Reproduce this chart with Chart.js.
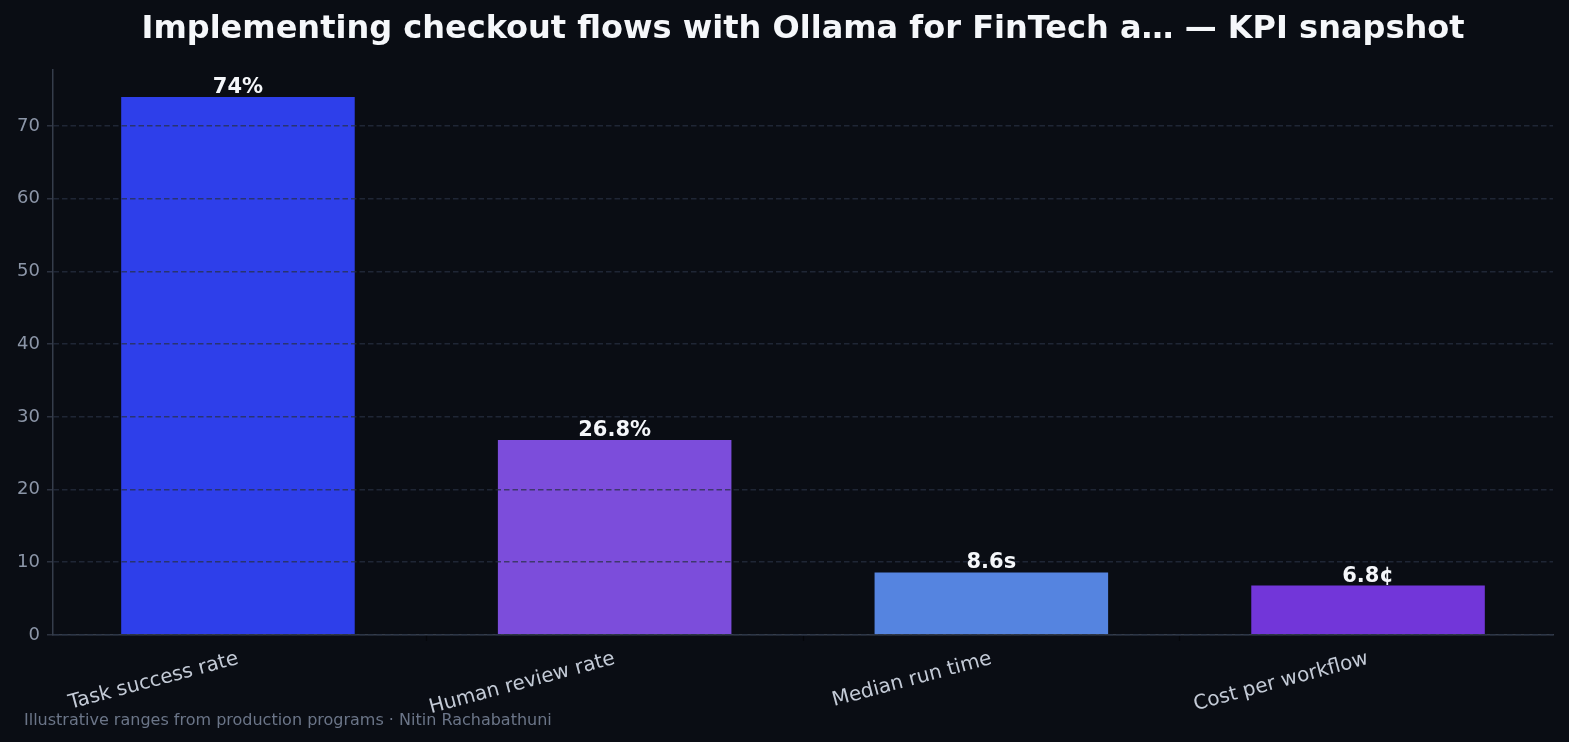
<!DOCTYPE html>
<html>
<head>
<meta charset="utf-8">
<script src="https://cdn.jsdelivr.net/npm/chart.js@4/dist/chart.umd.min.js"></script>
<style>
  html, body { margin: 0; padding: 0; background: #0a0d14; }
  #wrap { width: 1569px; height: 742px; position: relative; }
</style>
</head>
<body>
<div id="wrap"><canvas id="c" width="1569" height="742"></canvas></div>
<script>
const titleText = "Implementing checkout flows with Ollama for FinTech a\u2026 \u2014 KPI snapshot";
const footerText = "Illustrative ranges from production programs \u00b7 Nitin Rachabathuni";
const categories = ["Task success rate", "Human review rate", "Median run time", "Cost per workflow"];
const values = [74, 26.8, 8.6, 6.8];
const valueLabels = ["74%", "26.8%", "8.6s", "6.8\u00a2"];
const barColors = ["#2e3fea", "#7c4ddb", "#5584e0", "#7236d9"];
const yTicks = [0, 10, 20, 30, 40, 50, 60, 70];
const yMax = 77.7;
const xMin = -0.491, xMax = 3.491;

const FONT = "'DejaVu Sans', sans-serif";

const overlay = {
  id: 'overlay',
  afterDraw(chart) {
    const ctx = chart.ctx;
    const area = chart.chartArea;
    const meta = chart.getDatasetMeta(0);
    ctx.save();
    ctx.fillStyle = '#f5f7fa';
    ctx.font = 'bold 21px ' + FONT;
    ctx.textAlign = 'center';
    ctx.textBaseline = 'alphabetic';
    meta.data.forEach((bar, i) => {
      ctx.fillText(valueLabels[i], bar.x, bar.y - 4);
    });
    ctx.font = 'bold 32px ' + FONT;
    ctx.fillText(titleText, (area.left + area.right) / 2, 38);
    ctx.fillStyle = '#6b7588';
    ctx.font = '16px ' + FONT;
    ctx.textAlign = 'left';
    ctx.fillText(footerText, 24, 725);
    ctx.restore();
  }
};

new Chart(document.getElementById('c'), {
  type: 'bar',
  data: {
    datasets: [{
      data: values.map((v, i) => ({ x: i, y: v })),
      backgroundColor: barColors,
      borderWidth: 0,
      barPercentage: 0.62,
      categoryPercentage: 1.0
    }]
  },
  options: {
    responsive: false,
    animation: false,
    devicePixelRatio: 1,
    layout: { padding: { top: 70, right: 16, left: 0, bottom: 0 } },
    plugins: { legend: { display: false }, title: { display: false }, tooltip: { enabled: false } },
    scales: {
      x: {
        type: 'linear',
        min: xMin,
        max: xMax,
        offset: false,
        afterBuildTicks(scale) { scale.ticks = categories.map((c, i) => ({ value: i })); },
        grid: { display: true, drawOnChartArea: false, drawTicks: true, tickLength: 6, tickColor: '#05070a', tickWidth: 1.2, z: 1 },
        border: { display: true, color: '#353d4b', width: 1.5, z: 1 },
        ticks: {
          color: '#c3cad6',
          font: { family: FONT, size: 20 },
          autoSkip: false,
          minRotation: 15,
          maxRotation: 15,
          padding: 6,
          includeBounds: false,
          callback: (v) => categories[v]
        },
        afterFit(scale) { scale.height = 107; }
      },
      y: {
        min: 0,
        max: yMax,
        afterBuildTicks(scale) { scale.ticks = yTicks.map(v => ({ value: v })); },
        grid: {
          z: 1,
          color: 'rgba(40,48,66,0.72)',
          lineWidth: 1.6,
          drawTicks: true,
          tickLength: 6,
          tickColor: '#353d4b',
          tickBorderDash: [],
          tickWidth: 1.2
        },
        border: { display: true, color: '#353d4b', width: 1.5, dash: [5.5, 3], z: 1 },
        ticks: {
          color: '#8c96a8',
          font: { family: FONT, size: 18 },
          padding: 7,
          includeBounds: false
        },
        afterFit(scale) { scale.width = 53; }
      }
    }
  },
  plugins: [overlay]
});
</script>
</body>
</html>
